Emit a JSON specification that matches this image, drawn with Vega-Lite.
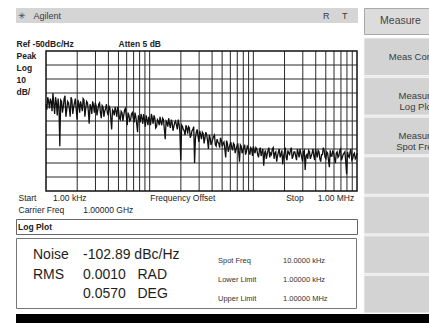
{
  "$schema": "https://vega.github.io/schema/vega-lite/v6.json",
  "background": "white",
  "padding": {"left": 15, "top": 7, "right": 0, "bottom": 0},
  "config": {
    "font": "Liberation Sans",
    "view": {"stroke": null},
    "axis": {"labelFont": "Liberation Sans", "titleFont": "Liberation Sans"},
    "text": {"font": "Liberation Sans"}
  },
  "datasets": {
    "trace": [{"f":1,"db":-88},{"f":1.039,"db":-83},{"f":1.08,"db":-91},{"f":1.122,"db":-86},{"f":1.166,"db":-80},{"f":1.212,"db":-95},{"f":1.259,"db":-87},{"f":1.308,"db":-84},{"f":1.359,"db":-118},{"f":1.413,"db":-86},{"f":1.468,"db":-90},{"f":1.525,"db":-82},{"f":1.585,"db":-92},{"f":1.647,"db":-87},{"f":1.711,"db":-97},{"f":1.778,"db":-85},{"f":1.848,"db":-90},{"f":1.92,"db":-84},{"f":1.995,"db":-99},{"f":2.073,"db":-88},{"f":2.154,"db":-86},{"f":2.239,"db":-93},{"f":2.326,"db":-85},{"f":2.418,"db":-91},{"f":2.512,"db":-87},{"f":2.61,"db":-102},{"f":2.712,"db":-90},{"f":2.818,"db":-86},{"f":2.929,"db":-94},{"f":3.043,"db":-89},{"f":3.162,"db":-92},{"f":3.286,"db":-87},{"f":3.415,"db":-98},{"f":3.548,"db":-90},{"f":3.687,"db":-93},{"f":3.831,"db":-88},{"f":3.981,"db":-96},{"f":4.137,"db":-91},{"f":4.299,"db":-106},{"f":4.467,"db":-93},{"f":4.642,"db":-90},{"f":4.823,"db":-97},{"f":5.012,"db":-92},{"f":5.208,"db":-99},{"f":5.412,"db":-94},{"f":5.623,"db":-96},{"f":5.843,"db":-91},{"f":6.072,"db":-103},{"f":6.31,"db":-96},{"f":6.556,"db":-99},{"f":6.813,"db":-94},{"f":7.079,"db":-101},{"f":7.356,"db":-97},{"f":7.644,"db":-108},{"f":7.943,"db":-98},{"f":8.254,"db":-95},{"f":8.577,"db":-102},{"f":8.913,"db":-99},{"f":9.261,"db":-96},{"f":9.624,"db":-103},{"f":10,"db":-99},{"f":10.39,"db":-95},{"f":10.8,"db":-102},{"f":11.22,"db":-98},{"f":11.66,"db":-104},{"f":12.12,"db":-100},{"f":12.59,"db":-97},{"f":13.08,"db":-103},{"f":13.59,"db":-99},{"f":14.13,"db":-113},{"f":14.68,"db":-101},{"f":15.25,"db":-98},{"f":15.85,"db":-105},{"f":16.47,"db":-101},{"f":17.11,"db":-104},{"f":17.78,"db":-100},{"f":18.48,"db":-106},{"f":19.2,"db":-102},{"f":19.95,"db":-128},{"f":20.73,"db":-104},{"f":21.54,"db":-107},{"f":22.39,"db":-103},{"f":23.26,"db":-109},{"f":24.18,"db":-105},{"f":25.12,"db":-110},{"f":26.1,"db":-106},{"f":27.12,"db":-130},{"f":28.18,"db":-108},{"f":29.29,"db":-111},{"f":30.43,"db":-107},{"f":31.62,"db":-113},{"f":32.86,"db":-109},{"f":34.15,"db":-112},{"f":35.48,"db":-110},{"f":36.87,"db":-120},{"f":38.31,"db":-112},{"f":39.81,"db":-115},{"f":41.37,"db":-111},{"f":42.99,"db":-117},{"f":44.67,"db":-113},{"f":46.42,"db":-116},{"f":48.23,"db":-112},{"f":50.12,"db":-118},{"f":52.08,"db":-115},{"f":54.12,"db":-126},{"f":56.23,"db":-116},{"f":58.43,"db":-119},{"f":60.72,"db":-115},{"f":63.1,"db":-121},{"f":65.56,"db":-117},{"f":68.13,"db":-120},{"f":70.79,"db":-116},{"f":73.56,"db":-129},{"f":76.44,"db":-118},{"f":79.43,"db":-121},{"f":82.54,"db":-117},{"f":85.77,"db":-122},{"f":89.13,"db":-119},{"f":92.61,"db":-124},{"f":96.24,"db":-120},{"f":100,"db":-118},{"f":103.9,"db":-123},{"f":108,"db":-120},{"f":112.2,"db":-126},{"f":116.6,"db":-119},{"f":121.2,"db":-122},{"f":125.9,"db":-132},{"f":130.8,"db":-121},{"f":135.9,"db":-124},{"f":141.3,"db":-119},{"f":146.8,"db":-123},{"f":152.5,"db":-120},{"f":158.5,"db":-127},{"f":164.7,"db":-122},{"f":171.1,"db":-125},{"f":177.8,"db":-120},{"f":184.8,"db":-124},{"f":192,"db":-131},{"f":199.5,"db":-122},{"f":207.3,"db":-126},{"f":215.4,"db":-121},{"f":223.9,"db":-124},{"f":232.6,"db":-119},{"f":241.8,"db":-125},{"f":251.2,"db":-122},{"f":261,"db":-128},{"f":271.2,"db":-123},{"f":281.8,"db":-120},{"f":292.9,"db":-126},{"f":304.3,"db":-122},{"f":316.2,"db":-135},{"f":328.6,"db":-124},{"f":341.5,"db":-121},{"f":354.8,"db":-127},{"f":368.7,"db":-123},{"f":383.1,"db":-125},{"f":398.1,"db":-120},{"f":413.7,"db":-126},{"f":429.9,"db":-122},{"f":446.7,"db":-129},{"f":464.2,"db":-124},{"f":482.3,"db":-121},{"f":501.2,"db":-127},{"f":520.8,"db":-123},{"f":541.2,"db":-133},{"f":562.3,"db":-125},{"f":584.3,"db":-121},{"f":607.2,"db":-127},{"f":631,"db":-123},{"f":655.6,"db":-126},{"f":681.3,"db":-121},{"f":707.9,"db":-128},{"f":735.6,"db":-124},{"f":764.4,"db":-122},{"f":794.3,"db":-138},{"f":825.4,"db":-125},{"f":857.7,"db":-122},{"f":891.3,"db":-128},{"f":926.1,"db":-124},{"f":962.4,"db":-127},{"f":1000,"db":-123},
      {"f":1.019,"db":-92},{"f":1.059,"db":-86},{"f":1.101,"db":-84},{"f":1.144,"db":-93},{"f":1.189,"db":-88},{"f":1.236,"db":-83},{"f":1.284,"db":-96},{"f":1.334,"db":-90},{"f":1.386,"db":-85},{"f":1.44,"db":-94},{"f":1.496,"db":-84},{"f":1.555,"db":-97},{"f":1.616,"db":-86},{"f":1.679,"db":-91},{"f":1.745,"db":-83},{"f":1.813,"db":-95},{"f":1.884,"db":-87},{"f":1.957,"db":-92},{"f":2.034,"db":-85},{"f":2.113,"db":-94},{"f":2.196,"db":-89},{"f":2.282,"db":-84},{"f":2.371,"db":-97},{"f":2.464,"db":-86},{"f":2.561,"db":-93},{"f":2.661,"db":-88},{"f":2.765,"db":-95},{"f":2.873,"db":-89},{"f":2.985,"db":-87},{"f":3.102,"db":-96},{"f":3.224,"db":-88},{"f":3.35,"db":-94},{"f":3.481,"db":-89},{"f":3.617,"db":-97},{"f":3.758,"db":-91},{"f":3.905,"db":-94},{"f":4.058,"db":-89},{"f":4.217,"db":-98},{"f":4.382,"db":-92},{"f":4.553,"db":-96},{"f":4.732,"db":-93},{"f":4.917,"db":-90},{"f":5.109,"db":-98},{"f":5.309,"db":-93},{"f":5.517,"db":-100},{"f":5.732,"db":-92},{"f":5.957,"db":-97},{"f":6.19,"db":-94},{"f":6.432,"db":-100},{"f":6.683,"db":-95},{"f":6.945,"db":-98},{"f":7.217,"db":-94},{"f":7.499,"db":-102},{"f":7.792,"db":-96},{"f":8.097,"db":-101},{"f":8.414,"db":-98},{"f":8.743,"db":-95},{"f":9.085,"db":-104},{"f":9.441,"db":-99},{"f":9.81,"db":-97},
      {"f":10.19,"db":-103},{"f":10.59,"db":-98},{"f":11.01,"db":-96},{"f":11.44,"db":-105},{"f":11.89,"db":-99},{"f":12.36,"db":-103},{"f":12.84,"db":-101},{"f":13.34,"db":-98},{"f":13.86,"db":-106},{"f":14.4,"db":-100},{"f":14.96,"db":-104},{"f":15.55,"db":-102},{"f":16.16,"db":-99},{"f":16.79,"db":-107},{"f":17.45,"db":-101},{"f":18.13,"db":-103},{"f":18.84,"db":-99},{"f":19.57,"db":-108},{"f":20.34,"db":-103},{"f":21.13,"db":-106},{"f":21.96,"db":-110},{"f":22.82,"db":-105},{"f":23.71,"db":-104},{"f":24.64,"db":-112},{"f":25.61,"db":-107},{"f":26.61,"db":-104},{"f":27.65,"db":-112},{"f":28.73,"db":-106},{"f":29.85,"db":-115},{"f":31.02,"db":-110},{"f":32.24,"db":-108},{"f":33.5,"db":-116},{"f":34.81,"db":-108},{"f":36.17,"db":-114},{"f":37.58,"db":-110},{"f":39.05,"db":-117},{"f":40.58,"db":-113},{"f":42.17,"db":-110},{"f":43.82,"db":-118},{"f":45.53,"db":-115},{"f":47.32,"db":-119},{"f":49.17,"db":-114},{"f":51.09,"db":-116},{"f":53.09,"db":-120},{"f":55.17,"db":-114},{"f":57.32,"db":-122},{"f":59.57,"db":-117},{"f":61.9,"db":-119},{"f":64.32,"db":-116},{"f":66.83,"db":-123},{"f":69.45,"db":-118},{"f":72.17,"db":-122},{"f":74.99,"db":-117},{"f":77.92,"db":-123},{"f":80.97,"db":-119},{"f":84.14,"db":-124},{"f":87.43,"db":-118},{"f":90.85,"db":-122},{"f":94.41,"db":-119},{"f":98.1,"db":-125},
      {"f":101.9,"db":-121},{"f":105.9,"db":-119},{"f":110.1,"db":-124},{"f":114.4,"db":-121},{"f":118.9,"db":-125},{"f":123.6,"db":-120},{"f":128.4,"db":-123},{"f":133.4,"db":-127},{"f":138.6,"db":-121},{"f":144,"db":-126},{"f":149.6,"db":-124},{"f":155.5,"db":-119},{"f":161.6,"db":-123},{"f":167.9,"db":-129},{"f":174.5,"db":-122},{"f":181.3,"db":-126},{"f":188.4,"db":-121},{"f":195.7,"db":-125},{"f":203.4,"db":-119},{"f":211.3,"db":-128},{"f":219.6,"db":-123},{"f":228.2,"db":-121},{"f":237.1,"db":-127},{"f":246.4,"db":-122},{"f":256.1,"db":-125},{"f":266.1,"db":-120},{"f":276.5,"db":-126},{"f":287.3,"db":-123},{"f":298.5,"db":-129},{"f":310.2,"db":-121},{"f":322.4,"db":-125},{"f":335,"db":-127},{"f":348.1,"db":-122},{"f":361.7,"db":-125},{"f":375.8,"db":-120},{"f":390.5,"db":-128},{"f":405.8,"db":-123},{"f":421.7,"db":-121},{"f":438.2,"db":-127},{"f":455.3,"db":-124},{"f":473.2,"db":-119},{"f":491.7,"db":-126},{"f":510.9,"db":-122},{"f":530.9,"db":-128},{"f":551.7,"db":-121},{"f":573.2,"db":-125},{"f":595.7,"db":-123},{"f":619,"db":-130},{"f":643.2,"db":-122},{"f":668.3,"db":-125},{"f":694.5,"db":-120},{"f":721.7,"db":-126},{"f":749.9,"db":-123},{"f":779.2,"db":-129},{"f":809.7,"db":-122},{"f":841.4,"db":-126},{"f":874.3,"db":-120},{"f":908.5,"db":-127},{"f":944.1,"db":-123},{"f":981,"db":-126}],
    "vgrid": [{"f":2},{"f":3},{"f":4},{"f":5},{"f":6},{"f":7},{"f":8},{"f":9},{"f":10},{"f":20},{"f":30},{"f":40},{"f":50},{"f":60},{"f":70},{"f":80},{"f":90},{"f":100},{"f":200},{"f":300},{"f":400},{"f":500},{"f":600},{"f":700},{"f":800},{"f":900}],
    "hgrid": [{"db":-60},{"db":-70},{"db":-80},{"db":-90},{"db":-100},{"db":-110},{"db":-120},{"db":-130},{"db":-140}],
    "bigText": [
      {"row":"r1","col":"label","t":"Noise"},
      {"row":"r1","col":"value","t":"\u00a0\u00a0\u00a0\u00a0-102.89 dBc/Hz"},
      {"row":"r2","col":"label","t":"RMS"},
      {"row":"r2","col":"value","t":"0.0010\u00a0\u00a0\u00a0RAD"},
      {"row":"r3","col":"value","t":"0.0570\u00a0\u00a0\u00a0DEG"}
    ],
    "smallText": [
      {"row":"s1","col":"label","t":"Spot Freq"},
      {"row":"s1","col":"value","t":"10.0000 kHz"},
      {"row":"s2","col":"label","t":"Lower Limit"},
      {"row":"s2","col":"value","t":"1.00000 kHz"},
      {"row":"s3","col":"label","t":"Upper Limit"},
      {"row":"s3","col":"value","t":"1.00000 MHz"}
    ],
    "softkeys": [
      {"key":"b1","label":"Meas Control"},
      {"key":"b2","label":["Measure","Log Plot"]},
      {"key":"b3","label":["Measure","Spot Freq"]},
      {"key":"b4","label":""},
      {"key":"b5","label":""},
      {"key":"b6","label":""},
      {"key":"b7","label":""}
    ]
  },
  "spacing": 0,
  "vconcat": [
    {
      "spacing": 3,
      "hconcat": [
        {
          "spacing": 0,
          "vconcat": [
            {
              "width": 342, "height": 15,
              "view": {"fill": "#d5d5d5", "stroke": null},
              "data": {"values": [{"side":"left","t":"\u2733\u00a0\u00a0\u00a0Agilent"},{"side":"right","t":"R\u00a0\u00a0\u00a0\u00a0\u00a0T"}]},
              "mark": {"type":"text","align":"left","baseline":"middle","fontSize":9,"color":"#3a3a3a"},
              "encoding": {
                "x": {"field":"side","type":"nominal","scale":{"type":"point","range":[2,307],"padding":0},"axis":null},
                "text": {"field":"t"}
              }
            },
            {
              "width": 341, "height": 140,
              "view": {"stroke": null},
              "layer": [
                {
                  "data": {"name": "vgrid"},
                  "mark": {"type":"rule","color":"#2a2a2a","strokeWidth":1},
                  "encoding": {
                    "x": {"field":"f","type":"quantitative",
                      "scale":{"type":"log","domain":[1,1000],"nice":false,"range":[30,341]},
                      "axis": {"orient":"top","domain":false,"ticks":false,"labels":false,"grid":false,
                        "title":"Atten 5 dB","titleX":102,"titleY":-7.5,"titleAlign":"left","titleBaseline":"middle",
                        "titleFontSize":8.5,"titleFontWeight":"bold","titleColor":"#222","minExtent":28,"maxExtent":28}}
                  }
                },
                {
                  "data": {"name": "hgrid"},
                  "mark": {"type":"rule","color":"#2a2a2a","strokeWidth":1},
                  "encoding": {
                    "y": {"field":"db","type":"quantitative",
                      "scale":{"domain":[-150,-50],"nice":false,"zero":false},
                      "axis": {"orient":"left","domain":false,"ticks":false,"labels":false,"grid":false,
                        "title":["Ref -50dBc/Hz","Peak","Log","10","dB/"],"titleAngle":0,"titleX":0,"titleY":-12,
                        "titleAlign":"left","titleBaseline":"top","titleLineHeight":12,
                        "titleFontSize":8.5,"titleFontWeight":"bold","titleColor":"#222","minExtent":0,"maxExtent":0}},
                    "x": {"datum":1,"type":"quantitative","axis":null},
                    "x2": {"datum":1000}
                  }
                },
                {
                  "data": {"name": "trace"},
                  "mark": {"type":"line","color":"#111","strokeWidth":1.3},
                  "encoding": {
                    "x": {"field":"f","type":"quantitative",
                      "axis": {"orient":"bottom","domain":false,"ticks":false,"labels":false,"grid":false,
                        "title":["Start\u00a0\u00a0\u00a0\u00a0\u00a0\u00a0\u00a01.00 kHz\u00a0\u00a0\u00a0\u00a0\u00a0\u00a0\u00a0\u00a0\u00a0\u00a0\u00a0\u00a0\u00a0\u00a0\u00a0\u00a0\u00a0\u00a0\u00a0\u00a0\u00a0\u00a0\u00a0\u00a0\u00a0\u00a0\u00a0Frequency Offset\u00a0\u00a0\u00a0\u00a0\u00a0\u00a0\u00a0\u00a0\u00a0\u00a0\u00a0\u00a0\u00a0\u00a0\u00a0\u00a0\u00a0\u00a0\u00a0\u00a0\u00a0\u00a0\u00a0\u00a0\u00a0\u00a0\u00a0\u00a0\u00a0\u00a0Stop\u00a0\u00a0\u00a0\u00a0\u00a0\u00a01.00 MHz","Carrier Freq\u00a0\u00a0\u00a0\u00a0\u00a0\u00a0\u00a0\u00a01.00000 GHz"],
                        "titleX":2,"titleY":2,"titleAlign":"left","titleBaseline":"top","titleLineHeight":12,
                        "titleFontSize":8.5,"titleFontWeight":"normal","titleColor":"#222","minExtent":27,"maxExtent":27}},
                    "y": {"field":"db","type":"quantitative","axis":null}
                  }
                },
                {
                  "data": {"values": [{"frame":"plot"}]},
                  "mark": {"type":"rect","filled":false,"color":"#111","strokeWidth":1.5},
                  "encoding": {
                    "x": {"datum":1,"type":"quantitative","axis":null},
                    "x2": {"datum":1000},
                    "y": {"datum":-150,"type":"quantitative","axis":null},
                    "y2": {"datum":-50}
                  }
                }
              ],
              "resolve": {"axis": {"x": "independent", "y": "independent"}}
            },
            {
              "width": 341, "height": 15,
              "view": {"fill": "white", "stroke": "#666"},
              "data": {"values": [{"panel":"a","t":"Log Plot"}]},
              "mark": {"type":"text","align":"left","baseline":"middle","fontSize":8.5,"fontWeight":"bold","color":"#222"},
              "encoding": {
                "x": {"field":"panel","type":"nominal","scale":{"type":"point","range":[2,338],"align":0,"padding":0},"axis":null},
                "text": {"field":"t"}
              }
            },
            {
              "width": 340, "height": 70,
              "view": {"fill": "white", "stroke": "#777"},
              "layer": [
                {
                  "data": {"name": "bigText"},
                  "mark": {"type":"text","align":"left","baseline":"middle","fontSize":14,"color":"#1e1e1e"},
                  "encoding": {
                    "x": {"field":"col","type":"nominal","scale":{"type":"point","domain":["label","value"],"range":[17,67],"padding":0},
                      "axis":{"orient":"top","title":null,"labels":false,"ticks":false,"domain":false,"minExtent":2,"maxExtent":2}},
                    "y": {"field":"row","type":"nominal","scale":{"type":"point","domain":["r1","r2","r3"],"range":[17,56],"padding":0},"axis":null},
                    "text": {"field":"t"}
                  }
                },
                {
                  "data": {"name": "smallText"},
                  "mark": {"type":"text","align":"left","baseline":"middle","fontSize":7.5,"color":"#333"},
                  "encoding": {
                    "x": {"field":"col","type":"nominal","scale":{"type":"point","domain":["label","value"],"range":[202,267],"padding":0},"axis":null},
                    "y": {"field":"row","type":"nominal","scale":{"type":"point","domain":["s1","s2","s3"],"range":[23,61],"padding":0},"axis":null},
                    "text": {"field":"t"}
                  }
                }
              ],
              "resolve": {"scale": {"x":"independent","y":"independent"}, "axis": {"x":"independent","y":"independent"}}
            }
          ]
        },
        {
          "spacing": 2,
          "vconcat": [
            {
              "width": 69, "height": 26,
              "view": {"fill": "#dcdcdc", "stroke": "#a8a8a8"},
              "data": {"values": [{"t":"Measure"}]},
              "mark": {"type":"text","fontSize":10.5,"color":"#444","baseline":"middle","dx":2},
              "encoding": {"text": {"field":"t"}}
            },
            {
              "width": 69, "height": 275,
              "view": {"fill": "#e8e8e8", "stroke": null},
              "data": {"name": "softkeys"},
              "layer": [
                {
                  "mark": {"type":"rect","fill":"#d3d3d3","stroke":"#f4f4f4","strokeWidth":1},
                  "encoding": {"y": {"field":"key","type":"nominal","sort":null,"scale":{"paddingInner":0.05,"paddingOuter":0},"axis":null}}
                },
                {
                  "mark": {"type":"text","fontSize":9.5,"color":"#3a3a3a","dx":18.5,"clip":true,"lineHeight":11,"baseline":"middle"},
                  "encoding": {
                    "y": {"field":"key","type":"nominal","sort":null,"axis":null},
                    "text": {"field":"label"}
                  }
                }
              ]
            }
          ]
        }
      ]
    },
    {
      "width": 414, "height": 13,
      "view": {"fill": "black", "stroke": null},
      "data": {"values": [{"panel":"status"}]},
      "mark": {"type":"rect","color":"black"},
      "encoding": {}
    }
  ]
}
